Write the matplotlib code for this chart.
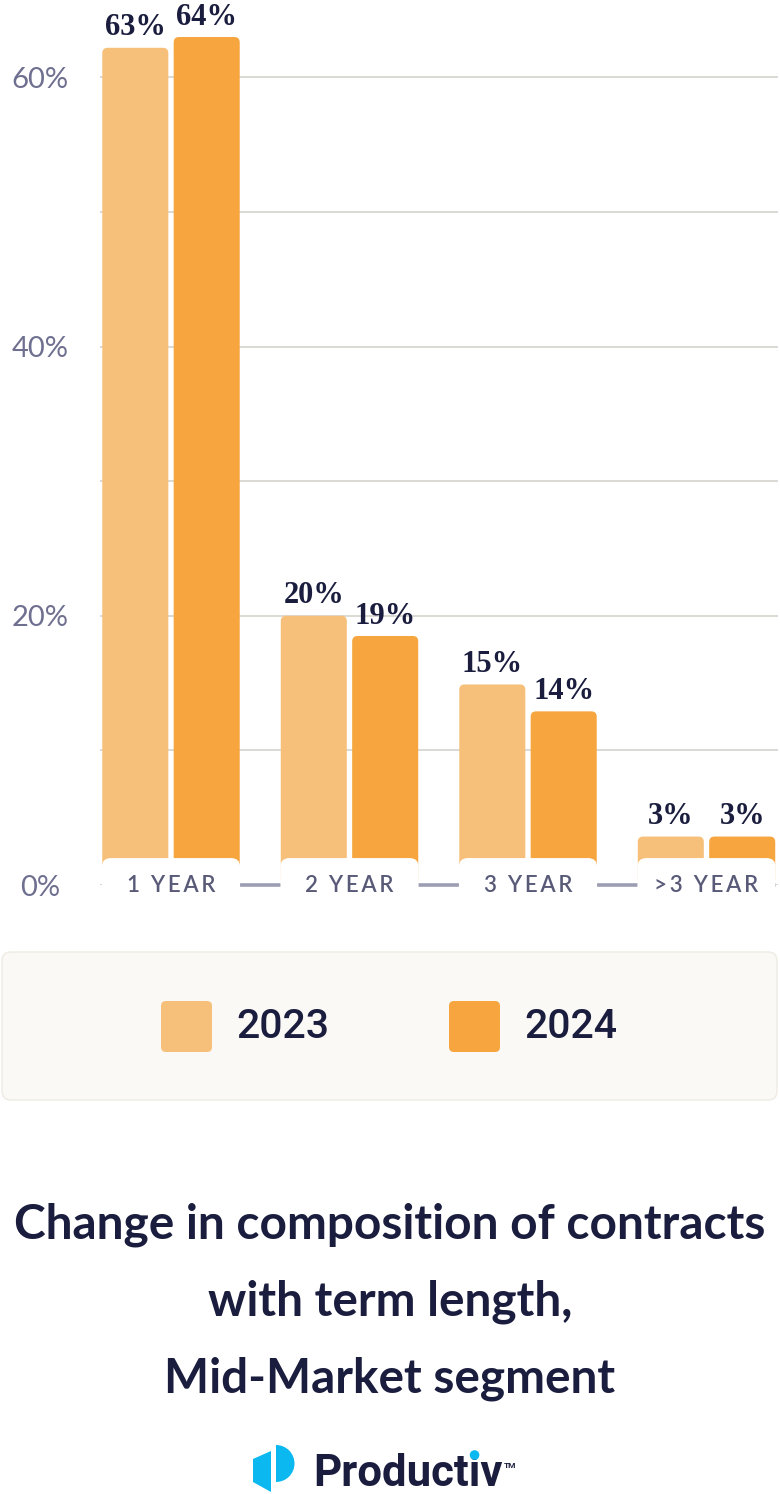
import matplotlib
matplotlib.use("Agg")
import matplotlib.pyplot as plt
from matplotlib.patches import FancyBboxPatch, Polygon, Wedge, Circle

W, H = 780, 1494

# data
terms = ["1 YEAR", "2 YEAR", "3 YEAR", ">3 YEAR"]
years = ["2023", "2024"]
labels_2023 = [63, 20, 15, 3]
labels_2024 = [64, 19, 14, 3]
heights_2023 = [62.2, 20.0, 14.9, 3.6]
heights_2024 = [63.0, 18.5, 12.9, 3.6]
yticks = [0, 10, 20, 30, 40, 50, 60]
ytick_labels = ["0%", "", "20%", "", "40%", "", "60%"]
title_lines = ["Change in composition of contracts", "with term length,", "Mid-Market segment"]

c23 = "#f6c07b"
c24 = "#f6a53f"
navy = "#1a1d3d"
grey_txt = "#6f7090"

fig = plt.figure(figsize=(W / 100, H / 100), dpi=100)

# main chart axes in pixel terms
px_per = 13.46
ax = fig.add_axes([100 / W, (H - 885) / H, 678 / W, 65 * px_per / H])
ax.set_ylim(0, 65)
ax.set_xlim(-71 / 178.5, 607 / 178.5)
for s in ax.spines.values():
    s.set_visible(False)

ax.set_yticks(yticks)
ax.set_yticklabels(ytick_labels, ha="center", color=grey_txt, fontsize=21,
                   family=["Lato", "DejaVu Sans"])
ax.tick_params(axis="y", length=0, pad=43)
ax.set_xticks([])
ax.grid(axis="y", color="#dcd9d3", lw=1.4, zorder=0)
ax.set_axisbelow(True)

x = list(range(len(terms)))
bw = 0.37
asp = (178.5 / px_per)
for vals, labs, off, col in [(heights_2023, labels_2023, -0.2, c23), (heights_2024, labels_2024, 0.2, c24)]:
    bars = ax.bar([i + off for i in x], vals, width=bw, color=col, zorder=2)
    for b, lab in zip(bars, labs):
        b.set_visible(False)
        p = FancyBboxPatch((b.get_x(), b.get_y()), b.get_width(), b.get_height(),
                           boxstyle="round,pad=0,rounding_size=0.03",
                           mutation_aspect=asp, fc=col, ec="none", zorder=2)
        ax.add_patch(p)
        ax.text(b.get_x() + b.get_width() / 2, b.get_height() + 0.4, f"{lab}%",
                ha="center", va="bottom", fontsize=22, fontweight="bold",
                family="Liberation Serif", color=navy, zorder=5)

# baseline with white label tabs on top of it
ax.hlines(0, -0.387, len(terms) - 1 + 0.387, color="#9c9db3", lw=2.6, zorder=3, clip_on=False)
for i, t in enumerate(terms):
    tab = FancyBboxPatch((i - 0.387, -2.2), 0.774, 4.2,
                         boxstyle="round,pad=0,rounding_size=0.05",
                         mutation_aspect=asp, fc="white", ec="none",
                         zorder=4, clip_on=False)
    ax.add_patch(tab)
    spaced = "\u2009".join(t)
    ax.text(i, -0.05, spaced, ha="center", va="center", fontsize=16,
            family=["Lato", "DejaVu Sans"], fontweight="semibold",
            color="#585a78", zorder=5, clip_on=False)

# overlay in pixel coordinates for legend, title and logo
ov = fig.add_axes([0, 0, 1, 1])
ov.set_xlim(0, W)
ov.set_ylim(H, 0)
ov.axis("off")

ov.add_patch(FancyBboxPatch((2, 952), 775, 148, boxstyle="round,pad=0,rounding_size=9",
                            fc="#faf9f5", ec="#efebe3", lw=1))
leg_x = [161, 449]
for yr, col, lx in zip(years, [c23, c24], leg_x):
    ov.add_patch(FancyBboxPatch((lx, 1001), 51, 51, boxstyle="round,pad=0,rounding_size=5",
                                fc=col, ec="none"))
    ov.text(lx + 75, 1027, yr, ha="left", va="center", fontsize=29.5,
            family="Roboto", fontweight="medium", color=navy)

for k, line in enumerate(title_lines):
    ov.text(390, 1225 + 77 * k, line, ha="center", va="center", fontsize=34.4,
            family="Lato", fontweight="bold", color=navy)

# logo
blue = "#0bb8ef"
ov.add_patch(Polygon([(253, 1459), (271, 1451), (271, 1492), (253, 1482)], closed=True,
                     fc=blue, ec="none"))
ov.add_patch(Wedge((276, 1463.5), 18.5, -90, 90, fc=blue, ec="none"))
fs_logo = 31.5
logo = ov.text(313, 1486, "Productiv", ha="left", va="baseline", fontsize=fs_logo,
               family="Roboto", fontweight="bold", color=navy)
fig.canvas.draw()
r = fig.canvas.get_renderer()
inv = ov.transData.inverted()
t1 = ov.text(313, 1486, "Product", fontsize=fs_logo, family="Roboto", fontweight="bold", alpha=0)
t2 = ov.text(313, 1486, "Producti", fontsize=fs_logo, family="Roboto", fontweight="bold", alpha=0)
e1 = inv.transform(t1.get_window_extent(r))
e2 = inv.transform(t2.get_window_extent(r))
ex = inv.transform(logo.get_window_extent(r))
dot_x = (e1[1][0] + e2[1][0]) / 2
ov.add_patch(Circle((dot_x, 1455), 4.8, fc=blue, ec="none", zorder=6))
ov.text(ex[1][0] + 1, 1466, "TM", fontsize=6, family="Roboto", fontweight="bold",
        color=navy, ha="left", va="center")

fig.savefig("out.png", dpi=100)
